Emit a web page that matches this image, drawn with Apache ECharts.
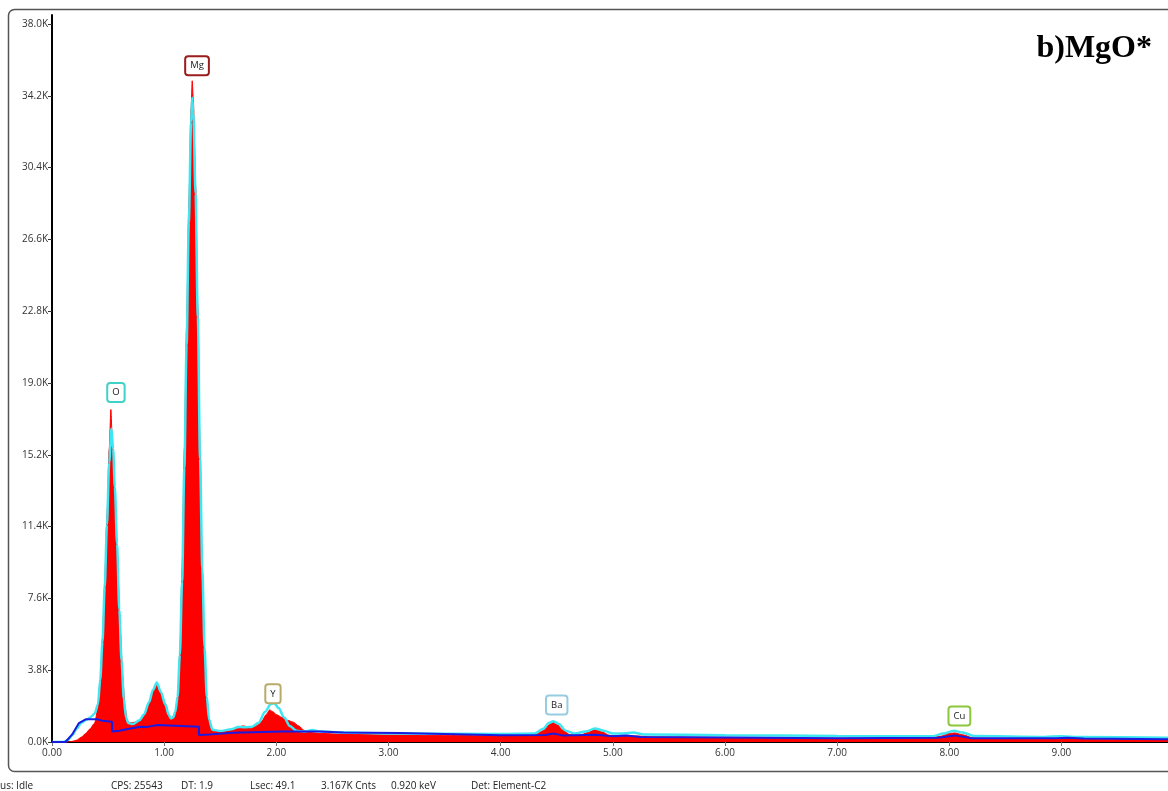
<!DOCTYPE html>
<html>
<head>
<meta charset="utf-8">
<script src="https://cdn.jsdelivr.net/npm/echarts@6/dist/echarts.min.js"></script>
<style>
html,body{margin:0;padding:0;background:#fff;}
#chart{width:1168px;height:791px;}
</style>
</head>
<body>
<div id="chart"></div>
<script>
// Measured spectrum (red), energy in keV, counts in K
const spectrumEnergy = [0.00,0.14,0.18,0.22,0.26,0.30,0.34,0.38,0.41,0.43,0.45,0.47,0.49,0.51,0.525,0.54,0.555,0.57,0.59,0.61,0.63,0.65,0.67,0.69,0.74,0.78,0.82,0.865,0.90,0.934,0.97,1.014,1.04,1.06,1.08,1.10,1.12,1.14,1.16,1.18,1.20,1.22,1.24,1.25,1.26,1.28,1.30,1.32,1.34,1.36,1.38,1.40,1.43,1.50,1.58,1.64,1.70,1.76,1.82,1.87,1.91,1.94,1.97,2.00,2.05,2.10,2.15,2.20,2.25,2.30,2.40,2.60,2.80,3.00,3.50,4.00,4.30,4.38,4.43,4.46,4.50,4.55,4.62,4.70,4.78,4.84,4.90,4.97,5.10,5.20,5.35,6.00,7.00,7.80,7.92,8.00,8.05,8.12,8.22,8.90,9.00,9.10,10.00];
const spectrumCounts = [0,0,0.03,0.1,0.25,0.45,0.7,1.0,1.8,3.3,5.5,8.5,12.0,15.5,17.6,15.5,13.8,11.0,8.5,5.8,3.5,1.9,1.15,1.0,1.05,1.15,1.45,2.06,2.7,3.1,2.6,2.0,1.45,1.27,1.35,1.6,2.4,4.8,9.2,15.5,22.0,28.5,33.5,35.0,34.0,29.5,23.0,15.5,9.0,4.8,2.3,1.2,0.62,0.55,0.6,0.7,0.85,0.8,0.85,1.1,1.45,1.7,1.6,1.45,1.3,1.15,1.05,0.85,0.6,0.5,0.45,0.42,0.4,0.38,0.35,0.33,0.36,0.6,0.9,1.05,0.95,0.65,0.38,0.35,0.5,0.68,0.55,0.35,0.3,0.32,0.27,0.24,0.2,0.2,0.3,0.45,0.48,0.38,0.2,0.17,0.18,0.16,0.12];

// Fitted spectrum (cyan)
const fitEnergy = [0.00,0.10,0.14,0.18,0.22,0.26,0.30,0.34,0.38,0.41,0.43,0.45,0.47,0.49,0.51,0.53,0.545,0.56,0.58,0.60,0.62,0.64,0.66,0.68,0.72,0.78,0.82,0.865,0.90,0.935,0.97,1.01,1.04,1.06,1.08,1.10,1.12,1.14,1.16,1.18,1.20,1.22,1.24,1.25,1.26,1.28,1.30,1.32,1.34,1.36,1.38,1.40,1.43,1.50,1.60,1.66,1.72,1.78,1.84,1.90,1.95,1.98,2.02,2.07,2.12,2.18,2.25,2.32,2.40,2.60,3.00,4.00,4.30,4.38,4.43,4.47,4.52,4.58,4.66,4.76,4.84,4.92,5.00,5.10,5.18,5.28,6.00,7.00,7.85,7.95,8.04,8.12,8.22,8.85,9.00,9.15,10.00];
const fitCounts = [0,0,0.1,0.35,0.7,1.0,1.15,1.3,1.5,2.0,3.3,5.3,8.2,11.5,14.8,16.6,15.5,13.5,10.5,7.0,4.3,2.3,1.3,1.0,0.95,1.15,1.45,2.1,2.75,3.15,2.65,2.0,1.45,1.25,1.3,1.6,2.4,4.6,8.5,14.5,21.0,27.5,32.8,34.1,33.3,29.0,22.5,15.0,9.2,5.0,2.4,1.2,0.65,0.58,0.68,0.8,0.78,0.8,1.0,1.6,2.0,2.06,1.8,1.3,0.85,0.6,0.55,0.63,0.55,0.5,0.45,0.42,0.45,0.7,1.0,1.1,0.95,0.6,0.45,0.55,0.72,0.6,0.45,0.45,0.5,0.4,0.36,0.32,0.3,0.45,0.6,0.5,0.32,0.27,0.3,0.26,0.22];

// Background (blue)
const bgEnergy = [0.00,0.12,0.18,0.24,0.30,0.40,0.45,0.535,0.535,0.60,0.70,0.79,0.79,0.85,0.94,0.94,1.31,1.31,1.40,1.61,2.05,2.38,2.60,3.10,4.00,4.40,4.47,4.55,4.85,5.00,5.12,5.25,6.00,7.00,7.90,8.05,8.20,8.95,9.05,9.20,10.00];
const bgCounts = [0,0,0.4,1.0,1.2,1.2,1.12,1.07,0.55,0.6,0.72,0.81,0.76,0.8,0.9,0.82,0.81,0.37,0.4,0.49,0.55,0.55,0.5,0.47,0.36,0.37,0.45,0.35,0.38,0.3,0.35,0.27,0.24,0.2,0.22,0.35,0.2,0.2,0.22,0.18,0.15];

// Element labels
const elementNames = ['O','Mg','Y','Ba','Cu'];
const elementEnergy = [0.57,1.293,1.97,4.50,8.09];
const elementCounts = [18.5,35.8,2.55,1.96,1.38];

// Axis ticks
const yTicks = [0,3.8,7.6,11.4,15.2,19.0,22.8,26.6,30.4,34.2,38.0];
const xTicks = [0,1,2,3,4,5,6,7,8,9];

const zip = (a,b) => a.map((v,i)=>[v,b[i]]);
const labelBorder = {O:'#3fd2c8', Mg:'#9a1c1c', Y:'#b8ab6a', Ba:'#98cce0', Cu:'#8cc63a'};
const FONT = '"Open Sans", sans-serif';

const chart = echarts.init(document.getElementById('chart'), null, {renderer:'canvas'});
chart.setOption({
  animation:false,
  backgroundColor:'#fff',
  grid:{left:52, top:15, right:0, bottom:49, containLabel:false, outerBoundsMode:'none'},
  xAxis:[{
    type:'value', min:0, max:9.95,
    axisLine:{show:true, onZero:false, lineStyle:{color:'#000', width:2}},
    axisTick:{show:true, length:4, lineStyle:{color:'#777'}, customValues:xTicks},
    axisLabel:{show:true, margin:6, fontSize:10, fontFamily:FONT, color:'#333', customValues:xTicks,
      formatter:v=>Number(v).toFixed(2)},
    splitLine:{show:false}
  },{
    type:'value', min:0, max:9.95, position:'top',
    axisLine:{show:true, lineStyle:{color:'#000', width:2}},
    axisTick:{show:false}, axisLabel:{show:false}, splitLine:{show:false}
  }],
  yAxis:{
    type:'value', min:0, max:38.48,
    axisLine:{show:true, onZero:false, lineStyle:{color:'#000', width:2}},
    axisTick:{show:true, length:4, lineStyle:{color:'#333'}, customValues:yTicks},
    axisLabel:{show:true, margin:4, fontSize:10, fontFamily:FONT, color:'#333', customValues:yTicks,
      formatter:v=>Number(v).toFixed(1)+'K'},
    splitLine:{show:false}
  },
  series:[
    {type:'line', name:'spectrum', data:zip(spectrumEnergy,spectrumCounts), showSymbol:false, symbol:'none',
     smooth:0.25, smoothMonotone:'x',
     lineStyle:{color:'#ff0000', width:1}, areaStyle:{color:'#ff0000', opacity:1}, z:2},
    {type:'line', name:'fit', data:zip(fitEnergy,fitCounts), showSymbol:false, symbol:'none',
     smooth:0.3, smoothMonotone:'x',
     lineStyle:{color:'#3ee6f2', width:2.5}, z:3},
    {type:'line', name:'background', data:zip(bgEnergy,bgCounts), showSymbol:false, symbol:'none',
     lineStyle:{color:'#1a1ae0', width:2}, z:4},
    {type:'scatter', name:'elements', symbol:'circle', symbolSize:2, itemStyle:{color:'rgba(255,255,255,0)'}, z:6,
     data:elementNames.map((n,i)=>({name:n, value:[elementEnergy[i],elementCounts[i]],
       label:{borderColor:labelBorder[n]}})),
     label:{show:true, position:'inside', formatter:'{b}', fontSize:9.5, fontFamily:FONT, color:'#222', opacity:1,
       backgroundColor:'#fff', borderWidth:2, borderRadius:2, padding:[4,4,3,4]}}
  ],
  graphic:[
    {type:'rect', shape:{x:8.5, y:9.5, width:1200, height:762, r:6}, style:{fill:null, stroke:'#555', lineWidth:1.5}, z:-1, silent:true},
    {type:'text', x:1152, y:49, style:{text:'b)MgO*', font:'bold 32px "Liberation Serif", "Times New Roman", serif', fill:'#000', align:'right', verticalAlign:'middle'}},
    {type:'text', x:0, y:786, style:{text:'us: Idle', font:'10px '+FONT, fill:'#222', verticalAlign:'middle'}},
    {type:'text', x:111, y:786, style:{text:'CPS: 25543', font:'10px '+FONT, fill:'#222', verticalAlign:'middle'}},
    {type:'text', x:181, y:786, style:{text:'DT: 1.9', font:'10px '+FONT, fill:'#222', verticalAlign:'middle'}},
    {type:'text', x:250, y:786, style:{text:'Lsec: 49.1', font:'10px '+FONT, fill:'#222', verticalAlign:'middle'}},
    {type:'text', x:321, y:786, style:{text:'3.167K Cnts', font:'10px '+FONT, fill:'#222', verticalAlign:'middle'}},
    {type:'text', x:391, y:786, style:{text:'0.920 keV', font:'10px '+FONT, fill:'#222', verticalAlign:'middle'}},
    {type:'text', x:471, y:786, style:{text:'Det: Element-C2', font:'10px '+FONT, fill:'#222', verticalAlign:'middle'}}
  ]
});
</script>
</body>
</html>
